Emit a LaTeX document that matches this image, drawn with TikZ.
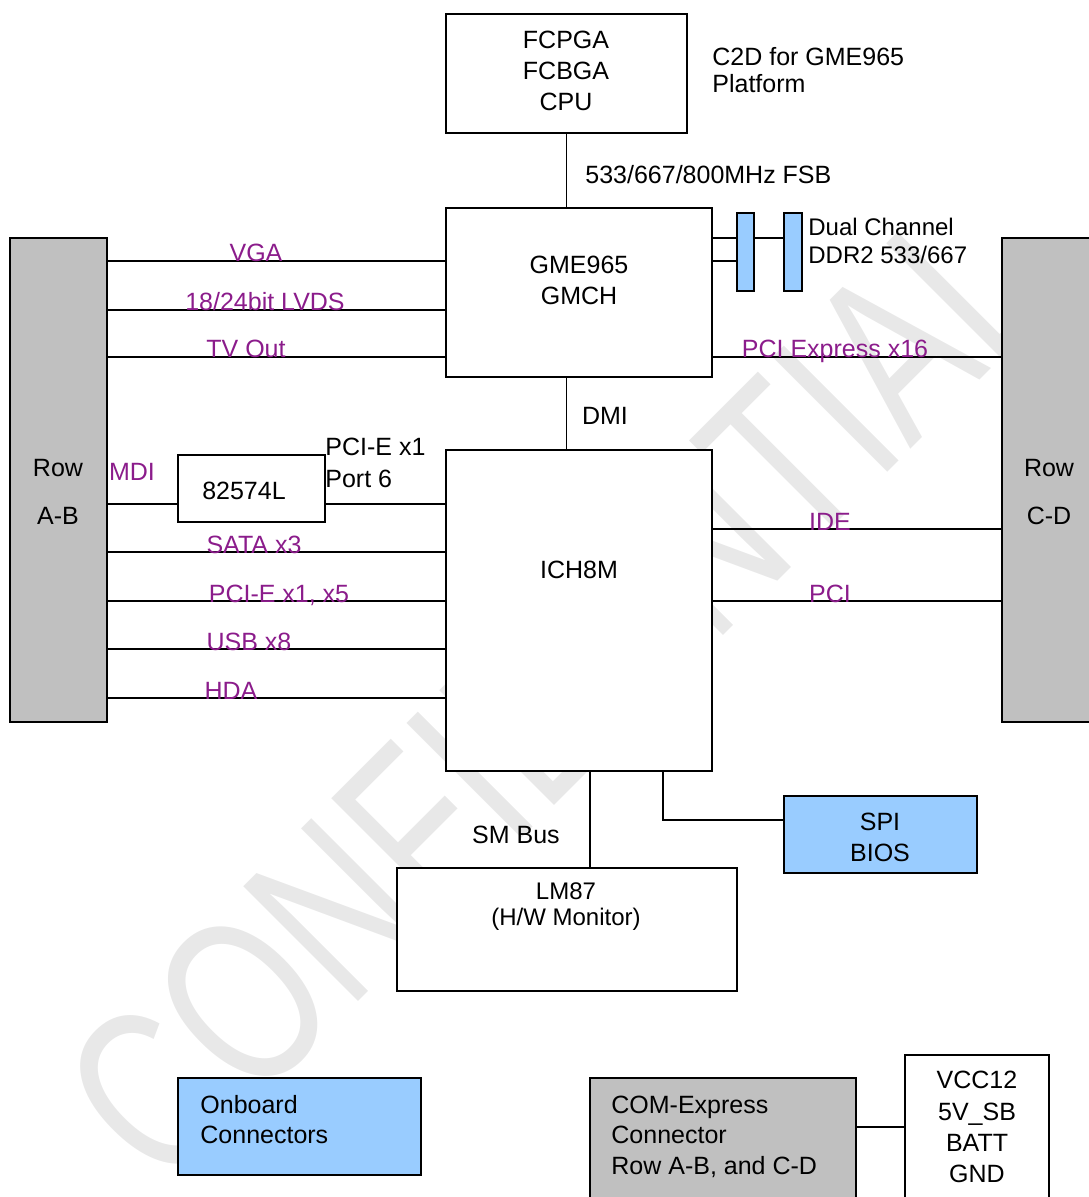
\documentclass[tikz,border=0pt]{standalone}
\usepackage{fontspec}
\setmainfont{Liberation Sans}
\usetikzlibrary{positioning,calc}
\definecolor{boxblue}{HTML}{99CCFF}
\definecolor{rowgray}{HTML}{C0C0C0}
\definecolor{sigpurple}{HTML}{8B1C8B}

\tikzset{
  blk/.style 2 args={draw, fill=white, line width=0.8pt, minimum width=#1*0.5pt,
    minimum height=#2*0.5pt, inner sep=0pt},
  txt/.style={font=\fontsize{12.5}{15.5}\selectfont, align=center, inner sep=0pt},
  sig/.style={font=\fontsize{12.5}{15}\selectfont\color{sigpurple}, anchor=base, inner sep=0pt},
  wire/.style={line width=0.8pt},
}

\begin{document}
\begin{tikzpicture}[x=0.5pt, y=-0.5pt]
  \useasboundingbox (0,0) rectangle (1088,1197);

  % Marca de agua
  \node[rotate=45, text=gray!18, inner sep=0pt,
    font=\fontsize{118}{118}\selectfont] (wm) at (555,690)
    {\scalebox{0.73}[1]{CONFIDENTIAL}};

  % Bloques principales
  \node[blk={241}{119}] (cpu) at (566.5,73.5) {};
  \node[blk={266}{169}] (gmch) at (579,292.5) {};
  \node[blk={17}{78}, fill=boxblue] (dimma) at (745.5,252) {};
  \node[blk={18}{78}, fill=boxblue] (dimmb) at (793,252) {};
  \node[blk={266}{321}] (ich) at (579,610.5) {};
  \node[blk={147}{67}] (nic) at (251.5,488.5) {};
  \node[blk={340}{123}] (lm) at (567,929.5) {};
  \node[blk={193}{77}, fill=boxblue] (spi) at (880.5,834.5) {};

  % Conectores COM-Express
  \node[blk={97}{484}, fill=rowgray] (rowab) at (58.5,480) {};
  \node[blk={98}{484}, fill=rowgray] (rowcd) at (1051,480) {};

  % Leyenda inferior
  \node[blk={243}{97}, fill=boxblue] (onb) at (299.5,1126.5) {};
  \node[blk={266}{132}, fill=rowgray] (com) at (723,1144) {};
  \node[blk={144}{155}] (vcc) at (977,1132.5) {};

  % Textos de los bloques
  \node[txt] (cputxt) at (566,71) {FCPGA\\FCBGA\\CPU};
  \node[txt, anchor=west, align=left, font=\fontsize{12.5}{13.5}\selectfont]
    (plat) at (712,70.5) {C2D for GME965\\Platform};
  \node[txt] (gmchtxt) at (579,280.5) {GME965\\GMCH};
  \node[txt, anchor=west, align=left, font=\fontsize{12}{14}\selectfont]
    (ddr) at (808,241) {Dual Channel\\DDR2 533/667};
  \node[txt] (ichtxt) at (579,570) {ICH8M};
  \node[txt] (nictxt) at (244,491) {82574L};
  \node[txt, font=\fontsize{12}{13}\selectfont] (lmtxt) at (566,907) {LM87\\(H/W Monitor)};
  \node[txt] (spitxt) at (880,837.5) {SPI\\BIOS};
  \node[txt, font=\fontsize{12.5}{24}\selectfont] (abtxt) at (58,492) {Row\\A-B};
  \node[txt, font=\fontsize{12.5}{24}\selectfont] (cdtxt) at (1049,492) {Row\\C-D};
  \node[txt, anchor=west, align=left, font=\fontsize{12.5}{15}\selectfont]
    (onbtxt) at (200,1120) {Onboard\\Connectors};
  \node[txt, anchor=west, align=left, font=\fontsize{12.5}{15.25}\selectfont]
    (comtxt) at (611,1136.5) {COM-Express\\Connector\\Row A-B, and C-D};
  \node[txt, font=\fontsize{12.5}{15.6}\selectfont] (vcctxt) at (977,1127)
    {VCC12\\5V\_SB\\BATT\\GND};

  % Buses
  \draw[wire] (cpu.south) -- (cpu.south |- gmch.north);
  \node[txt, anchor=west] (fsb) at (585,175) {533/667/800MHz FSB};
  \draw[wire] (cpu.south |- gmch.south) -- (cpu.south |- ich.north);
  \node[txt] (dmi) at (605,416) {DMI};
  \draw[wire] (590,0 |- ich.south) -- (590,0 |- lm.north);
  \node[txt] (smb) at (516,835) {SM Bus};
  \draw[wire] (663,0 |- ich.south) |- (spi.west |- 0,820);
  \draw[wire] (com.east |- 0,1127) -- (vcc.west |- 0,1127);

  % Memoria
  \foreach \y in {238,261}{
    \draw[wire] (gmch.east |- 0,\y) -- (dimma.west |- 0,\y);
  }
  \draw[wire] (dimma.east |- 0,238) -- (dimmb.west |- 0,238);

  % Senales Row A-B -> GMCH
  \foreach \y/\lx/\lab in {261/256/VGA, 310/265/{18/24bit LVDS}, 357/246/TV Out}{
    \draw[wire] (rowab.east |- 0,\y) -- (gmch.west |- 0,\y);
    \node[sig] at (\lx,\y+1) {\lab};
  }

  % Senales Row A-B -> ICH8M
  \foreach \y/\lx/\lab in {552/254/SATA x3, 601/279/{PCI-E x1, x5},
      649/249/USB x8, 698/231/HDA}{
    \draw[wire] (rowab.east |- 0,\y) -- (ich.west |- 0,\y);
    \node[sig] at (\lx,\y+1) {\lab};
  }

  % LAN
  \draw[wire] (rowab.east |- 0,504) -- (nic.west |- 0,504);
  \draw[wire] (nic.east |- 0,504) -- (ich.west |- 0,504);
  \node[sig] (mdi) at (132,480) {MDI};
  \node[txt, anchor=west, align=left, font=\fontsize{12.5}{16}\selectfont]
    (port6) at (325,463) {PCI-E x1\\Port 6};

  % Senales hacia Row C-D
  \draw[wire] (gmch.east |- 0,357) -- (rowcd.west |- 0,357);
  \node[sig] at (835,358) {PCI Express x16};
  \foreach \y/\lab in {529/IDE, 601/PCI}{
    \draw[wire] (ich.east |- 0,\y) -- (rowcd.west |- 0,\y);
    \node[sig] at (830,\y+1) {\lab};
  }
\end{tikzpicture}
\end{document}
